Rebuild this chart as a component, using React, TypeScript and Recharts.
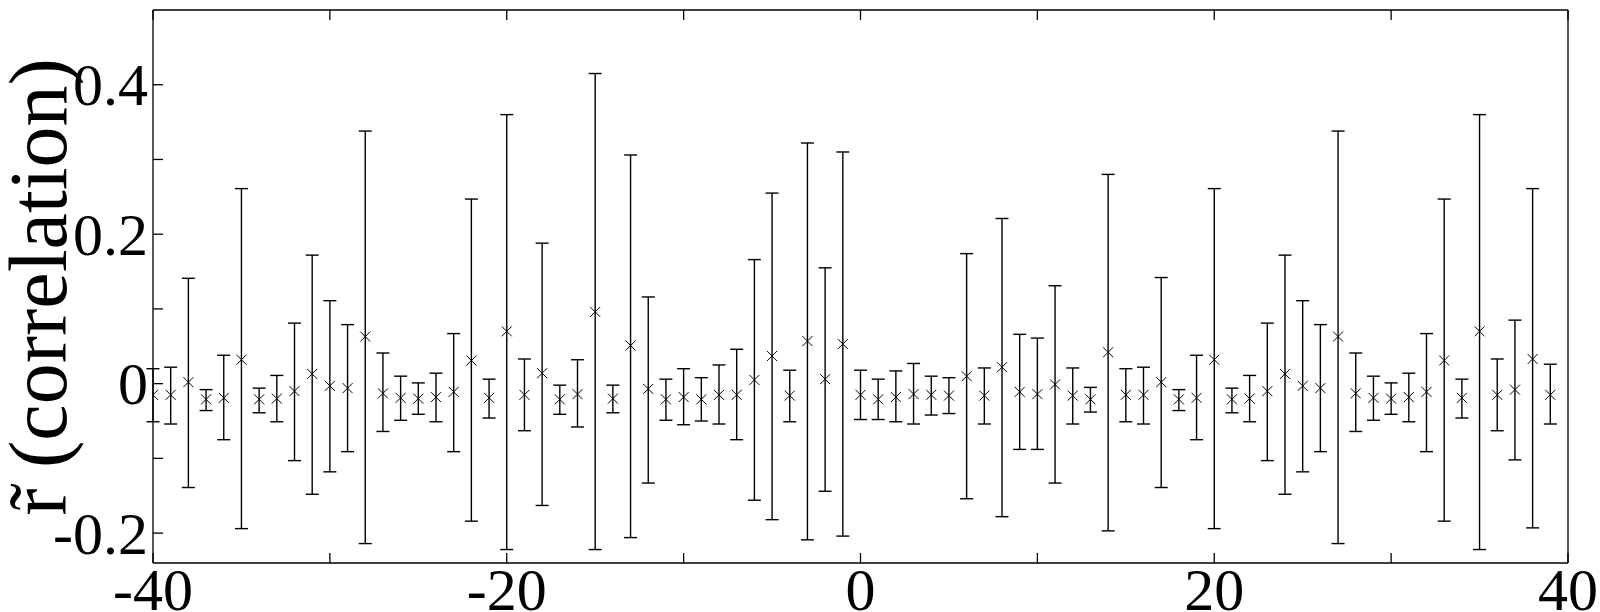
import { ScatterChart, Scatter, XAxis, YAxis, ErrorBar } from 'recharts';

// lag values and the estimated correlation with its interval
const lags = [
  -40, -39, -38, -37, -36, -35, -34, -33, -32, -31, -30, -29, -28, -27, -26, -25,
  -24, -23, -22, -21, -20, -19, -18, -17, -16, -15, -14, -13, -12, -11, -10, -9,
  -8, -7, -6, -5, -4, -3, -2, -1, 0, 1, 2, 3, 4, 5, 6, 7,
  8, 9, 10, 11, 12, 13, 14, 15, 16, 17, 18, 19, 20, 21, 22, 23,
  24, 25, 26, 27, 28, 29, 30, 31, 32, 33, 34, 35, 36, 37, 38, 39,
];

const means = [
  -0.015, -0.015, 0.002, -0.021, -0.019, 0.032, -0.021, -0.02, -0.01, 0.013, -0.003, -0.006, 0.063, -0.013, -0.019, -0.02,
  -0.018, -0.011, 0.031, -0.019, 0.07, -0.015, 0.014, -0.021, -0.014, 0.096, -0.02, 0.051, -0.007, -0.021, -0.018, -0.021,
  -0.015, -0.015, 0.005, 0.037, -0.016, 0.057, 0.006, 0.053, -0.015, -0.021, -0.018, -0.014, -0.015, -0.016, 0.01, -0.016,
  0.022, -0.011, -0.014, -0.001, -0.016, -0.021, 0.042, -0.015, -0.015, 0.002, -0.021, -0.019, 0.032, -0.021, -0.02, -0.01,
  0.013, -0.003, -0.006, 0.063, -0.013, -0.019, -0.02, -0.018, -0.011, 0.031, -0.019, 0.07, -0.015, -0.008, 0.033, -0.015,
];

const upper = [
  0.02, 0.022, 0.141, -0.008, 0.038, 0.261, -0.006, 0.011, 0.081, 0.172, 0.111, 0.079, 0.338, 0.041, 0.01, 0.001,
  0.014, 0.067, 0.247, 0.006, 0.36, 0.033, 0.188, -0.002, 0.032, 0.415, -0.002, 0.306, 0.116, 0.006, 0.02, 0.008,
  0.025, 0.046, 0.166, 0.255, 0.018, 0.322, 0.155, 0.31, 0.018, 0.006, 0.017, 0.027, 0.01, 0.008, 0.174, 0.021,
  0.221, 0.066, 0.061, 0.131, 0.021, -0.005, 0.28, 0.02, 0.022, 0.142, -0.008, 0.038, 0.261, -0.006, 0.011, 0.081,
  0.172, 0.111, 0.079, 0.338, 0.041, 0.01, 0.001, 0.014, 0.067, 0.247, 0.006, 0.36, 0.033, 0.085, 0.261, 0.026,
];

const lower = [
  -0.051, -0.054, -0.139, -0.036, -0.075, -0.194, -0.039, -0.051, -0.103, -0.148, -0.118, -0.091, -0.214, -0.064, -0.049, -0.041,
  -0.051, -0.091, -0.184, -0.046, -0.222, -0.063, -0.163, -0.041, -0.058, -0.222, -0.039, -0.206, -0.133, -0.049, -0.055, -0.05,
  -0.054, -0.075, -0.156, -0.182, -0.051, -0.209, -0.144, -0.204, -0.048, -0.048, -0.051, -0.054, -0.042, -0.04, -0.154, -0.054,
  -0.178, -0.088, -0.088, -0.133, -0.054, -0.038, -0.197, -0.051, -0.054, -0.139, -0.036, -0.075, -0.194, -0.039, -0.051, -0.103,
  -0.148, -0.118, -0.091, -0.214, -0.064, -0.049, -0.041, -0.051, -0.091, -0.184, -0.046, -0.222, -0.063, -0.102, -0.193, -0.054,
];

const xTicks = [-40, -30, -20, -10, 0, 10, 20, 30, 40];
const xLabels = [-40, -20, 0, 20, 40];
const yTicks = [-0.2, -0.1, 0, 0.1, 0.2, 0.3, 0.4];
const yLabels = [-0.2, 0, 0.2, 0.4];
const X_DOMAIN = [-40, 40];
const Y_DOMAIN = [-0.24, 0.5];

const data = lags.map((lag, i) => ({
  lag,
  r: means[i],
  err: [means[i] - lower[i], upper[i] - means[i]],
}));

const FONT = "'Liberation Serif', Tinos, 'Times New Roman', 'DejaVu Serif', serif";
const INK = '#000';
const LINE = { stroke: INK, strokeWidth: 1.3 };

function BottomLabel({ x, y, payload }: any) {
  return (
    <text x={x} y={y + 47} textAnchor="middle" fontSize={60} fill={INK} style={{ fontFamily: FONT }}>
      {payload.value}
    </text>
  );
}

function LeftLabel({ x, y, payload }: any) {
  const v = payload.value;
  return (
    <text x={x - 5} y={y} dy="0.34em" textAnchor="end" fontSize={60} fill={INK} style={{ fontFamily: FONT }}>
      {Math.abs(v) < 1e-9 ? '0' : v.toFixed(1)}
    </text>
  );
}

function Cross({ cx, cy }: any) {
  const s = 5;
  return (
    <path
      d={`M${cx - s},${cy - s}L${cx + s},${cy + s}M${cx - s},${cy + s}L${cx + s},${cy - s}`}
      stroke={INK}
      strokeWidth={1}
      fill="none"
    />
  );
}

function YTitle() {
  return (
    <text
      x={66}
      y={287}
      transform="rotate(-90, 66, 287)"
      textAnchor="middle"
      fontSize={82}
      fill={INK}
      style={{ fontFamily: FONT }}
    >
      r̃ (correlation)
    </text>
  );
}

const Nothing = () => <g />;

export default function App() {
  return (
    <div style={{ position: 'absolute', left: 0, top: 0, width: 1600, height: 612, background: '#fff' }}>
      <ScatterChart width={1600} height={612} margin={{ top: 10, right: 32, bottom: 0, left: 0 }}>
        {/* labelled axes (outside) */}
        <XAxis
          type="number"
          dataKey="lag"
          domain={X_DOMAIN}
          ticks={xLabels}
          interval={0}
          height={49}
          tickSize={0}
          tickMargin={0}
          tickLine={false}
          axisLine={LINE}
          tick={<BottomLabel />}
          allowDataOverflow
        />
        <YAxis
          type="number"
          dataKey="r"
          domain={Y_DOMAIN}
          ticks={yLabels}
          interval={0}
          width={153}
          tickSize={0}
          tickMargin={0}
          tickLine={false}
          axisLine={LINE}
          tick={<LeftLabel />}
          allowDataOverflow
          label={{ content: () => <YTitle /> }}
        />
        {/* mirrored axes: inward ticks and the box */}
        <XAxis
          xAxisId="bm"
          type="number"
          dataKey="lag"
          domain={X_DOMAIN}
          ticks={xTicks}
          interval={0}
          mirror
          tickSize={10}
          tickLine={LINE}
          axisLine={false}
          tick={<Nothing />}
          allowDataOverflow
        />
        <XAxis
          xAxisId="top"
          orientation="top"
          type="number"
          dataKey="lag"
          domain={X_DOMAIN}
          ticks={xTicks}
          interval={0}
          mirror
          tickSize={10}
          tickLine={LINE}
          axisLine={LINE}
          tick={<Nothing />}
          allowDataOverflow
        />
        <YAxis
          yAxisId="lm"
          type="number"
          dataKey="r"
          domain={Y_DOMAIN}
          ticks={yTicks}
          interval={0}
          mirror
          tickSize={10}
          tickLine={LINE}
          axisLine={false}
          tick={<Nothing />}
          allowDataOverflow
        />
        <YAxis
          yAxisId="right"
          orientation="right"
          type="number"
          dataKey="r"
          domain={Y_DOMAIN}
          ticks={yTicks}
          mirror
          tickLine={false}
          axisLine={LINE}
          tick={false}
          allowDataOverflow
        />
        <Scatter data={data} xAxisId="top" yAxisId="lm" isAnimationActive={false} shape={Nothing} />
        <Scatter data={data} xAxisId="bm" yAxisId="right" isAnimationActive={false} shape={Nothing} />
        <Scatter data={data} isAnimationActive={false} shape={(p: any) => <Cross cx={p.cx} cy={p.cy} />}>
          <ErrorBar dataKey="err" direction="y" width={6.5} stroke={INK} strokeWidth={1.4} isAnimationActive={false} />
        </Scatter>
      </ScatterChart>
    </div>
  );
}
